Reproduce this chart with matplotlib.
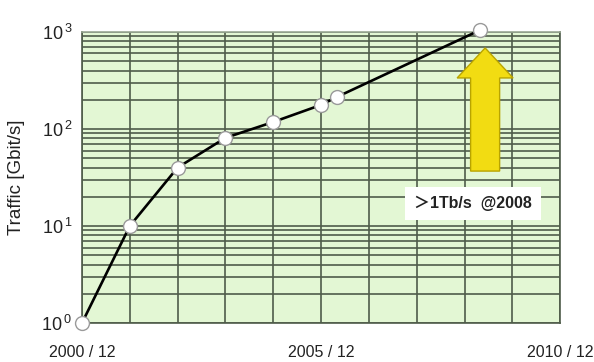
import matplotlib
matplotlib.use("Agg")
import matplotlib.pyplot as plt
from matplotlib.patches import FancyArrow

plt.rcParams['font.family'] = ['Liberation Sans', 'Noto Sans CJK JP', 'DejaVu Sans']

# months since 2000/12 and traffic in Gbit/s
months = [0, 12, 24, 36, 48, 60, 64, 100]
traffic = [1.0, 10.0, 40.0, 81.0, 118.0, 177.0, 214.0, 1050.0]

xtick_pos = [0, 60, 120]
xtick_labels = ['2000 / 12', '2005 / 12', '2010 / 12']
ytick_pos = [1, 10, 100, 1000]

gridcol = '#4f5c4a'

fig = plt.figure(figsize=(5.94, 3.62), dpi=100)
ax = fig.add_axes([0.138, 0.1077, 0.805, 0.804])
ax.set_facecolor('#e3f7d4')

ax.set_yscale('log')
ax.set_xlim(0, 120)
ax.set_ylim(1, 1000)

ax.set_xticks(xtick_pos)
ax.set_xticklabels(xtick_labels)
ax.set_xticks(range(0, 121, 12), minor=True)
ax.set_yticks(ytick_pos)
ax.set_yticklabels([r'$\mathregular{10^{\,%d}}$' % i for i in range(4)])

ax.tick_params(which='both', length=0)
ax.tick_params(axis='x', pad=16, labelsize=11.5, colors='#222222')
ax.tick_params(axis='y', pad=7, labelsize=13, colors='#222222')

ax.grid(True, which='both', color=gridcol, linewidth=1.2)
ax.set_axisbelow(True)
for s in ax.spines.values():
    s.set_color(gridcol)
    s.set_linewidth(1.2)
ax.spines['top'].set_color('#9aa894')

ax.plot(months, traffic, color='black', linewidth=1.9, marker='o',
        markersize=10, markerfacecolor='white', markeredgecolor='#9a9a9a',
        markeredgewidth=1.0, clip_on=False, zorder=5)

ax.set_ylabel('Traffic [Gbit/s]', fontsize=13.5, labelpad=12, color='#222222')

# big yellow arrow
arr = FancyArrow(0.8431, 0.522, 0, 0.423, width=0.0607, head_width=0.117,
                 head_length=0.103, length_includes_head=True,
                 transform=ax.transAxes, facecolor='#f2dc12',
                 edgecolor='#b9a400', linewidth=1.0, zorder=4)
ax.add_patch(arr)

ax.text(0.818, 0.41, '＞1Tb/s  @2008', transform=ax.transAxes,
        ha='center', va='center', fontsize=11.5, fontweight='bold',
        color='#222222', zorder=6,
        bbox=dict(boxstyle='square,pad=0.55', facecolor='white',
                  edgecolor='none'))

fig.savefig('out.png', dpi=100)
